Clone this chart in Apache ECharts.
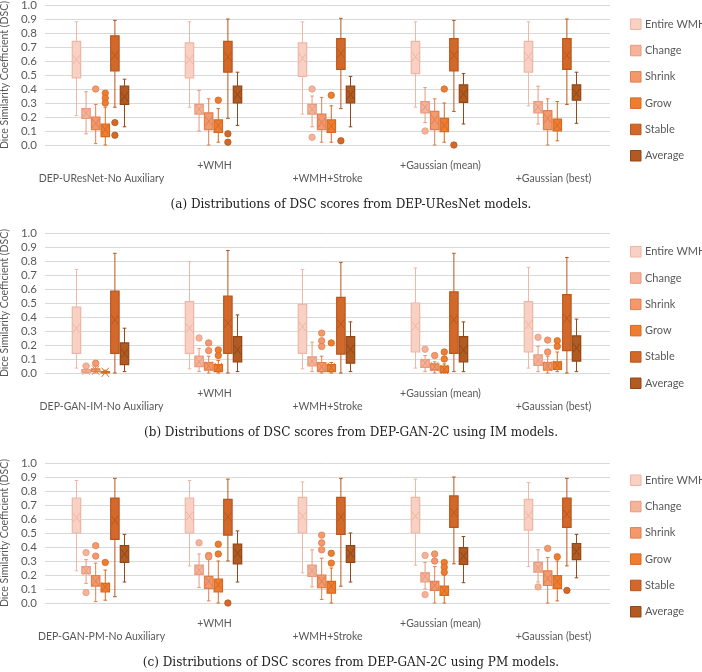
<!DOCTYPE html>
<html><head><meta charset="utf-8">
<script src="https://cdn.jsdelivr.net/npm/echarts@6/dist/echarts.min.js"></script>
<style>html,body{margin:0;padding:0;background:#fff}#c{width:702px;height:672px}</style>
</head><body><div id="c"></div>
<script>
// ---------- DATA ----------
const seriesNames = ['Entire WMH', 'Change', 'Shrink', 'Grow', 'Stable', 'Average'];
const catsA = ['DEP-UResNet-No Auxiliary', '+WMH', '+WMH+Stroke', '+Gaussian (mean)', '+Gaussian (best)'];
const catsB = ['DEP-GAN-IM-No Auxiliary', '+WMH', '+WMH+Stroke', '+Gaussian (mean)', '+Gaussian (best)'];
const catsC = ['DEP-GAN-PM-No Auxiliary', '+WMH', '+WMH+Stroke', '+Gaussian (mean)', '+Gaussian (best)'];
const yTicks = [0, 0.1, 0.2, 0.3, 0.4, 0.5, 0.6, 0.7, 0.8, 0.9, 1.0];
const captions = [
  '(a) Distributions of DSC scores from DEP-UResNet models.',
  '(b) Distributions of DSC scores from DEP-GAN-2C using IM models.',
  '(c) Distributions of DSC scores from DEP-GAN-2C using PM models.'
];
// each row: [lowWhisker, Q1, Q3, highWhisker, mean] per category
const aEntire  = [[0.21,0.48,0.74,0.88,0.61],[0.27,0.48,0.73,0.88,0.61],[0.22,0.49,0.73,0.88,0.62],[0.27,0.51,0.74,0.88,0.63],[0.28,0.52,0.74,0.88,0.63]];
const aChange  = [[0.08,0.19,0.26,0.38,0.23],[0.10,0.22,0.29,0.39,0.255],[0.13,0.22,0.29,0.35,0.255],[0.16,0.23,0.31,0.41,0.27],[0.15,0.23,0.31,0.42,0.27]];
const aShrink  = [[0.01,0.11,0.20,0.29,0.155],[0.0,0.11,0.23,0.33,0.17],[0.02,0.11,0.22,0.34,0.16],[0.0,0.11,0.24,0.33,0.18],[0.0,0.11,0.245,0.33,0.19]];
const aGrow    = [[0.0,0.06,0.15,0.27,0.11],[0.02,0.09,0.18,0.26,0.14],[0.02,0.09,0.18,0.28,0.135],[0.02,0.095,0.19,0.30,0.14],[0.03,0.10,0.185,0.31,0.14]];
const aStable  = [[0.27,0.53,0.78,0.89,0.64],[0.19,0.52,0.74,0.90,0.63],[0.26,0.54,0.76,0.905,0.655],[0.24,0.53,0.76,0.89,0.64],[0.29,0.54,0.76,0.90,0.64]];
const aAverage = [[0.13,0.29,0.42,0.47,0.345],[0.14,0.30,0.42,0.52,0.36],[0.13,0.30,0.42,0.49,0.36],[0.15,0.305,0.43,0.51,0.365],[0.155,0.32,0.43,0.52,0.37]];
// outliers: [categoryIndex, value]
const aEntireOut  = [];
const aChangeOut  = [[2,0.40],[2,0.055],[3,0.10]];
const aShrinkOut  = [[0,0.40]];
const aGrowOut    = [[0,0.37],[0,0.335],[0,0.30],[1,0.32],[2,0.355],[3,0.40]];
const aStableOut  = [[0,0.16],[0,0.07],[1,0.08],[1,0.02],[2,0.03],[3,0.0]];
const aAverageOut = [];

const bEntire  = [[0.035,0.14,0.47,0.74,0.32],[0.03,0.14,0.51,0.795,0.32],[0.03,0.14,0.49,0.74,0.33],[0.035,0.15,0.50,0.75,0.335],[0.035,0.15,0.51,0.755,0.345]];
const bChange  = [[0.0,0.005,0.025,0.04,0.02],[0.01,0.045,0.12,0.175,0.08],[0.01,0.05,0.115,0.22,0.085],[0.01,0.04,0.095,0.125,0.07],[0.01,0.055,0.13,0.19,0.09]];
const bShrink  = [[0.0,0.01,0.03,0.05,0.02],[0.0,0.02,0.075,0.12,0.05],[0.0,0.01,0.075,0.12,0.045],[0.0,0.02,0.065,0.08,0.045],[0.0,0.02,0.075,0.12,0.05]];
const bGrow    = [[0.0,0.0,0.01,0.02,0.005],[0.0,0.01,0.06,0.09,0.04],[0.0,0.01,0.06,0.075,0.04],[0.0,0.005,0.05,0.065,0.025],[0.01,0.025,0.08,0.15,0.055]];
const bStable  = [[0.0,0.14,0.585,0.855,0.38],[0.0,0.14,0.55,0.875,0.355],[0.0,0.135,0.54,0.79,0.35],[0.01,0.14,0.58,0.855,0.38],[0.0,0.16,0.56,0.825,0.39]];
const bAverage = [[0.01,0.06,0.215,0.32,0.14],[0.01,0.08,0.26,0.415,0.165],[0.01,0.07,0.26,0.365,0.17],[0.01,0.08,0.26,0.365,0.165],[0.01,0.085,0.265,0.385,0.18]];
const bEntireOut  = [];
const bChangeOut  = [[0,0.05],[1,0.25],[3,0.17],[4,0.255]];
const bShrinkOut  = [[0,0.07],[1,0.215],[1,0.16],[2,0.285],[2,0.23],[2,0.19],[3,0.125],[4,0.235],[4,0.15]];
const bGrowOut    = [[1,0.165],[1,0.125],[2,0.215],[3,0.15],[3,0.10],[4,0.23],[4,0.19]];
const bStableOut  = [];
const bAverageOut = [];

const cEntire  = [[0.23,0.50,0.75,0.875,0.61],[0.265,0.50,0.75,0.875,0.62],[0.215,0.50,0.755,0.865,0.62],[0.27,0.50,0.755,0.885,0.62],[0.26,0.52,0.74,0.86,0.625]];
const cChange  = [[0.14,0.21,0.26,0.31,0.23],[0.11,0.205,0.27,0.35,0.235],[0.115,0.19,0.27,0.38,0.23],[0.10,0.15,0.215,0.29,0.19],[0.15,0.22,0.29,0.38,0.25]];
const cShrink  = [[0.01,0.12,0.195,0.285,0.155],[0.015,0.105,0.19,0.31,0.155],[0.025,0.11,0.20,0.32,0.155],[0.0,0.09,0.155,0.26,0.125],[0.0,0.125,0.23,0.325,0.175]];
const cGrow    = [[0.02,0.08,0.14,0.235,0.115],[0.0,0.08,0.17,0.30,0.13],[0.0,0.07,0.155,0.25,0.12],[0.0,0.055,0.12,0.20,0.09],[0.015,0.105,0.195,0.30,0.155]];
const cStable  = [[0.045,0.455,0.75,0.89,0.59],[0.30,0.485,0.74,0.885,0.615],[0.12,0.49,0.755,0.89,0.615],[0.28,0.54,0.765,0.90,0.645],[0.265,0.54,0.75,0.89,0.635]];
const cAverage = [[0.15,0.29,0.41,0.49,0.35],[0.15,0.28,0.42,0.515,0.355],[0.15,0.29,0.41,0.50,0.355],[0.145,0.275,0.395,0.475,0.335],[0.18,0.31,0.425,0.49,0.37]];
const cEntireOut  = [];
const cChangeOut  = [[0,0.36],[0,0.075],[1,0.43],[3,0.34],[3,0.06],[4,0.115]];
const cShrinkOut  = [[0,0.41],[0,0.335],[1,0.34],[1,0.33],[2,0.485],[2,0.43],[2,0.38],[3,0.35],[3,0.30],[4,0.39]];
const cGrowOut    = [[0,0.29],[1,0.42],[1,0.35],[2,0.355],[2,0.285],[3,0.29],[3,0.255],[3,0.22],[4,0.33]];
const cStableOut  = [[1,0.0],[4,0.09]];
const cAverageOut = [];

// ---------- STYLE ----------
const fills   = ['#f8d1c4', '#f4b49b', '#f2996d', '#ed7d31', '#d2692a', '#b15a21'];
const strokes = ['#efb6a5', '#e99b7e', '#e27f51', '#d76a22', '#b9571c', '#934717'];
const FONT = 'Lato';
const TXT = '#595959';

const panels = [
  { cats: catsA, top: 5,   boxes: [aEntire, aChange, aShrink, aGrow, aStable, aAverage], outs: [aEntireOut, aChangeOut, aShrinkOut, aGrowOut, aStableOut, aAverageOut], legendTop: 18.5, capY: 205 },
  { cats: catsB, top: 233, boxes: [bEntire, bChange, bShrink, bGrow, bStable, bAverage], outs: [bEntireOut, bChangeOut, bShrinkOut, bGrowOut, bStableOut, bAverageOut], legendTop: 246, capY: 433 },
  { cats: catsC, top: 463, boxes: [cEntire, cChange, cShrink, cGrow, cStable, cAverage], outs: [cEntireOut, cChangeOut, cShrinkOut, cGrowOut, cStableOut, cAverageOut], legendTop: 474.5, capY: 663 }
];

const BOX_FRAC = 0.085;
function offsetX(band, s) { return (s - 2.5) * band * BOX_FRAC - band * 0.009; }

function boxRender(s) {
  return function (params, api) {
    const cat = api.value(0);
    const low = api.coord([cat, api.value(1)]);
    const q1 = api.coord([cat, api.value(2)]);
    const q3 = api.coord([cat, api.value(3)]);
    const high = api.coord([cat, api.value(4)]);
    const mean = api.coord([cat, api.value(5)]);
    const band = api.size([1, 0])[0];
    const bw = band * BOX_FRAC;
    const cx = low[0] + offsetX(band, s);
    const ls = { stroke: strokes[s], lineWidth: 1 };
    const cap = 1.8;
    const mx = Math.min(3.6, bw / 2 - 1), my = 4.6;
    return {
      type: 'group',
      children: [
        { type: 'line', shape: { x1: cx, y1: high[1], x2: cx, y2: q3[1] }, style: ls },
        { type: 'line', shape: { x1: cx, y1: q1[1], x2: cx, y2: low[1] }, style: ls },
        { type: 'line', shape: { x1: cx - cap, y1: high[1], x2: cx + cap, y2: high[1] }, style: ls },
        { type: 'line', shape: { x1: cx - cap, y1: low[1], x2: cx + cap, y2: low[1] }, style: ls },
        { type: 'rect', shape: { x: cx - bw / 2 + 0.6, y: q3[1], width: bw - 1.2, height: Math.max(q1[1] - q3[1], 1) },
          style: { fill: fills[s], stroke: strokes[s], lineWidth: 1.2 } },
        { type: 'line', shape: { x1: cx - mx, y1: mean[1] - my, x2: cx + mx, y2: mean[1] + my }, style: ls },
        { type: 'line', shape: { x1: cx - mx, y1: mean[1] + my, x2: cx + mx, y2: mean[1] - my }, style: ls }
      ]
    };
  };
}
function outRender(s) {
  return function (params, api) {
    const p = api.coord([api.value(0), api.value(1)]);
    const band = api.size([1, 0])[0];
    return { type: 'circle', shape: { cx: p[0] + offsetX(band, s), cy: p[1], r: 3.2 },
      style: { fill: fills[s], stroke: strokes[s], lineWidth: 0.8 } };
  };
}

const grids = [], xAxes = [], yAxes = [], legends = [], series = [], graphics = [];
panels.forEach(function (P, pi) {
  grids.push({ left: 45, width: 565, top: P.top, height: 140, containLabel: false, outerBoundsMode: 'none' });
  xAxes.push({
    type: 'category', gridIndex: pi, data: P.cats,
    axisLine: { show: false }, axisTick: { show: false },
    axisLabel: { interval: 0, color: TXT, fontFamily: FONT, fontSize: 10.5, margin: 13.5, lineHeight: 13.5,
      formatter: function (v, i) { return i % 2 === 0 ? '\n' + v : v; } }
  });
  yAxes.push({
    type: 'value', gridIndex: pi, min: 0, max: 1, interval: 0.1,
    name: 'Dice Similarity Coefficient (DSC)', nameLocation: 'middle', nameGap: 28,
    nameTextStyle: { color: TXT, fontFamily: FONT, fontSize: 10.5 },
    axisLine: { show: false }, axisTick: { show: false },
    axisLabel: { color: TXT, fontFamily: FONT, fontSize: 11.5, margin: 8,
      formatter: function (v) { return yTicks.indexOf(Math.round(v * 10) / 10) >= 0 ? (Math.round(v * 10) / 10).toFixed(1) : ''; } },
    splitLine: { lineStyle: { color: '#d9d9d9', width: 1 } }
  });
  legends.push({
    orient: 'vertical', left: 630, top: P.legendTop, itemWidth: 10.5, itemHeight: 10.5, itemGap: 14.8,
    selectedMode: false, padding: 0,
    textStyle: { color: TXT, fontFamily: FONT, fontSize: 11, lineHeight: 10.5, padding: [0, 0, 0, -1] },
    data: seriesNames.map(function (n, s) {
      return { name: n, icon: 'rect', itemStyle: { color: fills[s], borderColor: strokes[s], borderWidth: 1 } };
    })
  });
  seriesNames.forEach(function (n, s) {
    series.push({
      type: 'custom', name: n, xAxisIndex: pi, yAxisIndex: pi,
      renderItem: boxRender(s), itemStyle: { color: fills[s] },
      encode: { x: 0, y: [1, 2, 3, 4, 5] },
      data: P.boxes[s].map(function (r, i) { return [i].concat(r); }),
      silent: true, clip: false
    });
    series.push({
      type: 'custom', name: n, xAxisIndex: pi, yAxisIndex: pi,
      renderItem: outRender(s), itemStyle: { color: fills[s] },
      encode: { x: 0, y: 1 },
      data: P.outs[s], silent: true, clip: false
    });
  });
  graphics.push({
    type: 'text', x: 351, y: P.capY,
    style: { text: captions[pi], fill: '#222', font: '12px "DejaVu Serif"', align: 'center', verticalAlign: 'middle' }
  });
});

const chart = echarts.init(document.getElementById('c'), null, { renderer: 'canvas' });
chart.setOption({
  animation: false,
  grid: grids, xAxis: xAxes, yAxis: yAxes, legend: legends,
  series: series, graphic: graphics
});
</script></body></html>
